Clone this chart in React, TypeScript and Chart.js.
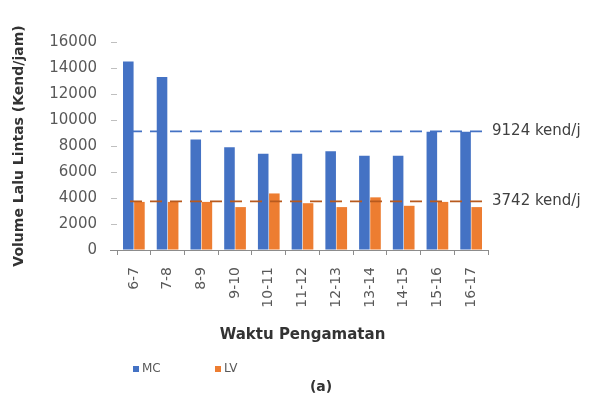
import React, { useEffect, useRef } from "react";
import { Chart, registerables } from "chart.js";

Chart.register(...registerables);

const categories = ["6-7", "7-8", "8-9", "9-10", "10-11", "11-12", "12-13", "13-14", "14-15", "15-16", "16-17"];
const mcValues = [14500, 13300, 8500, 7900, 7400, 7400, 7600, 7250, 7250, 9100, 9100];
const lvValues = [3700, 3700, 3700, 3300, 4350, 3600, 3300, 4050, 3400, 3700, 3300];
const seriesLabels = ["MC", "LV"];
const refValues = [9124, 3742];
const refLabels = ["9124 kend/j", "3742 kend/j"];
const yTitle = "Volume Lalu Lintas (Kend/jam)";
const xTitle = "Waktu Pengamatan";
const caption = "(a)";

const BLUE = "#4472C4";
const ORANGE = "#ED7D31";
const FONT = "'DejaVu Sans', sans-serif";

const overlayPlugin = {
  id: "overlay",
  afterDatasetsDraw(chart: any) {
    const { ctx, chartArea, scales } = chart;
    const y = scales.y;
    ctx.save();
    ctx.strokeStyle = "#8c8c8c";
    ctx.lineWidth = 1;
    ctx.beginPath();
    ctx.moveTo(chartArea.left - 7, Math.round(chartArea.bottom) + 0.5);
    ctx.lineTo(chartArea.left, Math.round(chartArea.bottom) + 0.5);
    ctx.stroke();

    const lineColors = [BLUE, "#B85A1E"];
    refValues.forEach((v, i) => {
      const py = y.getPixelForValue(v);
      ctx.strokeStyle = lineColors[i];
      ctx.lineWidth = 1.6;
      ctx.setLineDash([12, 8]);
      ctx.beginPath();
      ctx.moveTo(chartArea.left + 13, py);
      ctx.lineTo(chartArea.right, py);
      ctx.stroke();
      ctx.setLineDash([]);
      ctx.fillStyle = "#404040";
      ctx.font = "15px " + FONT;
      ctx.textAlign = "left";
      ctx.textBaseline = "middle";
      ctx.fillText(refLabels[i], chartArea.right + 4, py);
    });

    const legendX = [133, 215];
    const legendY = 369;
    chart.data.datasets.forEach((ds: any, i: number) => {
      ctx.fillStyle = ds.backgroundColor;
      ctx.fillRect(legendX[i], legendY - 3, 6, 6);
      ctx.fillStyle = "#595959";
      ctx.font = "12px " + FONT;
      ctx.textAlign = "left";
      ctx.textBaseline = "middle";
      ctx.fillText(ds.label, legendX[i] + 9, legendY);
    });

    ctx.fillStyle = "#333333";
    ctx.font = "bold 14px " + FONT;
    ctx.textAlign = "center";
    ctx.textBaseline = "middle";
    ctx.fillText(caption, 321, 387);
    ctx.restore();
  },
};

export default function App() {
  const canvasRef = useRef<HTMLCanvasElement | null>(null);

  useEffect(() => {
    if (!canvasRef.current) return;
    const chart = new Chart(canvasRef.current, {
      type: "bar",
      data: {
        labels: categories,
        datasets: [
          { label: seriesLabels[0], data: mcValues, backgroundColor: BLUE, categoryPercentage: 0.66, barPercentage: 0.95 },
          { label: seriesLabels[1], data: lvValues, backgroundColor: ORANGE, categoryPercentage: 0.66, barPercentage: 0.95 },
        ],
      },
      options: {
        responsive: false,
        animation: false,
        layout: { padding: { left: 0, right: 126, top: 42, bottom: 48 } },
        plugins: {
          legend: { display: false },
          tooltip: { enabled: false },
        },
        scales: {
          x: {
            border: { display: true, color: "#8c8c8c" },
            grid: { display: true, drawOnChartArea: false, drawTicks: true, tickLength: 5, color: "#8c8c8c", offset: true },
            ticks: {
              minRotation: 90,
              maxRotation: 90,
              padding: 12,
              color: "#595959",
              font: { family: FONT, size: 14 },
            },
            title: {
              display: true,
              text: xTitle,
              color: "#333333",
              font: { family: FONT, size: 15, weight: "bold" },
              padding: { top: 4, bottom: 6 },
            },
            afterFit(scale: any) {
              scale.height = 100;
            },
          },
          y: {
            min: 0,
            max: 16000,
            border: { display: false },
            grid: { display: true, drawOnChartArea: false, drawTicks: true, tickLength: 6, color: "#bfbfbf" },
            ticks: {
              stepSize: 2000,
              padding: 14,
              color: "#595959",
              font: { family: FONT, size: 15 },
              callback: (v: any) => String(v),
            },
            title: {
              display: true,
              text: yTitle,
              color: "#333333",
              font: { family: FONT, size: 14, weight: "bold" },
              padding: { top: 11, bottom: 4 },
            },
            afterFit(scale: any) {
              scale.width = 117;
            },
          },
        },
      },
      plugins: [overlayPlugin],
    });
    return () => chart.destroy();
  }, []);

  return (
    <div style={{ position: "absolute", left: 0, top: 0, width: 614, height: 398, background: "#fff" }}>
      <canvas ref={canvasRef} width={614} height={398} />
    </div>
  );
}
